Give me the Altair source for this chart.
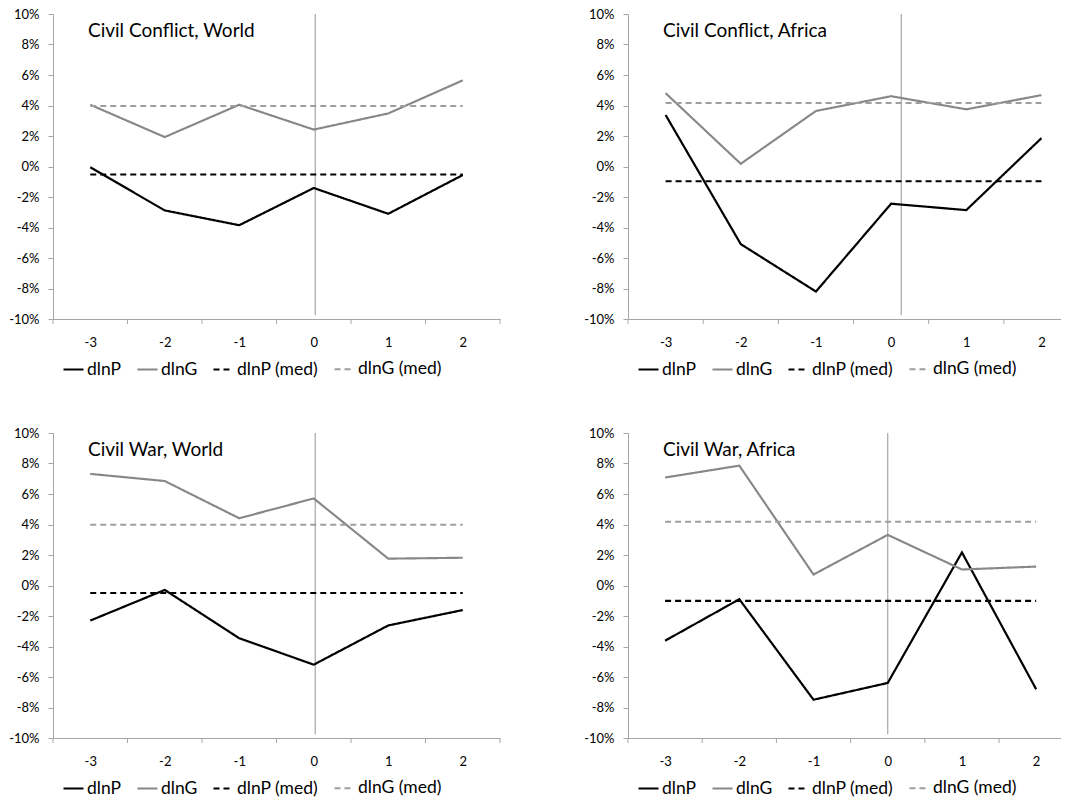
import altair as alt
import pandas as pd

categories = [-3, -2, -1, 0, 1, 2]
tick_bounds = [-3.5, -2.5, -1.5, -0.5, 0.5, 1.5, 2.5]
y_ticks = [-10, -8, -6, -4, -2, 0, 2, 4, 6, 8, 10]
series_names = ["dlnP", "dlnG", "dlnP (med)", "dlnG (med)"]

titles = ["Civil Conflict, World", "Civil Conflict, Africa",
          "Civil War, World", "Civil War, Africa"]
dlnP = [
    [-0.05, -2.88, -3.85, -1.41, -3.10, -0.56],
    [3.38, -5.09, -8.20, -2.44, -2.86, 1.86],
    [-2.30, -0.29, -3.46, -5.19, -2.62, -1.61],
    [-3.62, -0.90, -7.49, -6.39, 2.17, -6.80],
]
dlnG = [
    [4.05, 1.93, 4.05, 2.42, 3.48, 5.65],
    [4.81, 0.18, 3.64, 4.61, 3.75, 4.68],
    [7.32, 6.85, 4.41, 5.71, 1.76, 1.82],
    [7.08, 7.86, 0.72, 3.32, 1.05, 1.24],
]
med_P = [-0.52, -0.97, -0.49, -1.01]
med_G = [3.97, 4.16, 3.98, 4.18]
vline_x = [0.02, 0.135, 0.02, 0.0]
vline_top = 10
vline_bottom = -9.75
# right-hand panels are cut off at the page edge, as in the original
x_max = [2.5, 2.26, 2.5, 2.335]

colors = ["#000000", "#878787", "#000000", "#9e9e9e"]
dashes = [[1, 0], [1, 0], [6, 4], [6, 4]]
widths = [2.2, 2.0, 2.0, 1.6]

AXIS_GRAY = "#a6a6a6"
PLOT_H = 305


def panel(i, w, h):
    rows = []
    for j, c in enumerate(categories):
        rows.append({"x": c, "v": dlnP[i][j], "s": "dlnP"})
        rows.append({"x": c, "v": dlnG[i][j], "s": "dlnG"})
        rows.append({"x": c, "v": med_P[i], "s": "dlnP (med)"})
        rows.append({"x": c, "v": med_G[i], "s": "dlnG (med)"})
    df = pd.DataFrame(rows)

    xs = alt.Scale(domain=[-3.5, x_max[i]], nice=False, zero=False)
    ys = alt.Scale(domain=[-10, 10], nice=False, zero=False)

    x_axis = alt.Axis(values=categories, labelExpr="'' + datum.value", title=None,
                      grid=False, tickSize=5, tickColor="transparent",
                      labelPadding=12, domainColor=AXIS_GRAY, labelOverlap=False)
    y_axis = alt.Axis(values=y_ticks, labelExpr="datum.value + '%'", title=None,
                      grid=False, tickSize=5, tickColor=AXIS_GRAY,
                      labelPadding=9, domainColor=AXIS_GRAY, labelOverlap=False)

    leg = alt.Legend(orient="none", legendX=9, legendY=h + 39, direction="horizontal",
                     columns=4, symbolType="stroke", symbolSize=400,
                     symbolStrokeWidth=2, labelFont="Lato", labelFontSize=17.5,
                     labelOffset=2, columnPadding=11, title=None, padding=0,
                     labelColor="#000000")

    X = alt.X("x:Q", scale=xs, axis=x_axis)
    Y = alt.Y("v:Q", scale=ys, axis=y_axis)

    vl = alt.Chart(pd.DataFrame({"x": [vline_x[i]], "v": [vline_top],
                                 "v2": [vline_bottom]})).mark_rule(
        color=AXIS_GRAY, strokeWidth=1.2).encode(x=X, y=Y, y2="v2:Q")

    lines = alt.Chart(df).mark_line().encode(
        x=X,
        y=Y,
        color=alt.Color("s:N", scale=alt.Scale(domain=series_names, range=colors),
                        legend=leg, sort=series_names),
        strokeDash=alt.StrokeDash("s:N", scale=alt.Scale(domain=series_names, range=dashes),
                                  legend=leg, sort=series_names),
        strokeWidth=alt.StrokeWidth("s:N", scale=alt.Scale(domain=series_names, range=widths),
                                    legend=None),
    )

    tb = [t for t in tick_bounds if t <= x_max[i]]
    ticks = alt.Chart(pd.DataFrame({"x": tb})).mark_rule(
        color=AXIS_GRAY, strokeWidth=1).encode(
        x=X,
        y=alt.value(h),
        y2=alt.value(h + 5),
    )

    title = alt.Chart(pd.DataFrame({"t": [titles[i]]})).mark_text(
        align="left", baseline="alphabetic", font="Lato", fontSize=19,
        color="#000000").encode(
        text="t:N", x=alt.value(35), y=alt.value(23))

    return alt.layer(vl, lines, ticks, title).properties(width=w, height=h)


RES = dict(color="independent", strokeDash="independent", strokeWidth="independent")

top = alt.hconcat(panel(0, 447, PLOT_H), panel(1, 433, PLOT_H), spacing=82).resolve_scale(**RES)
bottom = alt.hconcat(panel(2, 447, PLOT_H), panel(3, 433, PLOT_H), spacing=82).resolve_scale(**RES)
chart = alt.vconcat(top, bottom, spacing=49).resolve_scale(**RES).properties(
    padding={"top": 0, "left": 0, "right": 0, "bottom": 0}
).configure_view(stroke=None).configure_axis(
    labelFont="Lato", labelFontSize=13, labelColor="#000000", labelOverlap=False
)

chart.save("out.html", embed_options={"renderer": "svg", "actions": False})
